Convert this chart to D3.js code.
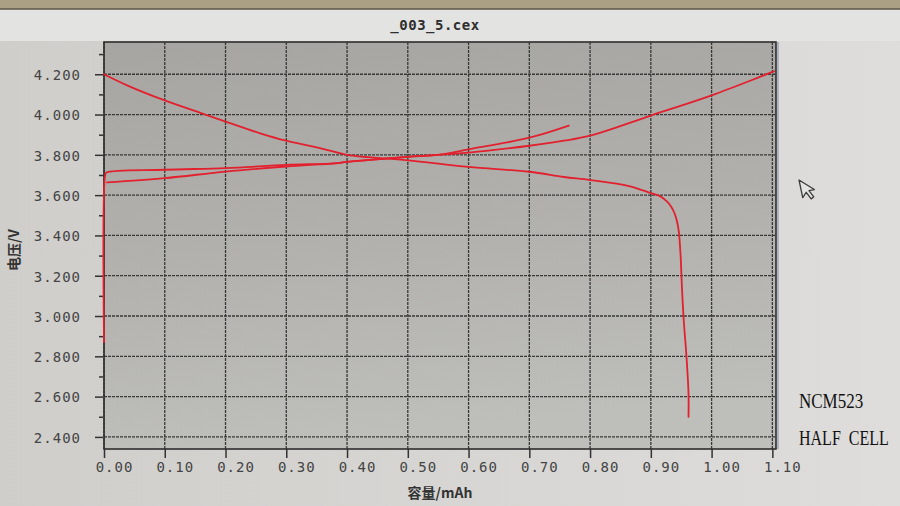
<!DOCTYPE html>
<html><head><meta charset="utf-8">
<script src="https://cdn.jsdelivr.net/npm/d3@7"></script>
<style>html,body{margin:0;padding:0;background:#d6d5d1;}svg{display:block;}</style>
</head><body>
<script>
// ---- data ----
const title = "_003_5.cex";
const xTicks = [0.00,0.10,0.20,0.30,0.40,0.50,0.60,0.70,0.80,0.90,1.00,1.10];
const yTicks = [2.4,2.6,2.8,3.0,3.2,3.4,3.6,3.8,4.0,4.2];
const yMinorTicks = [2.5,2.7,2.9,3.1,3.3,3.5,3.7,3.9,4.1,4.3];
// discharge curve
const dischargeCap = [0,0.038,0.1,0.161,0.2,0.257,0.3,0.36,0.4,0.5,0.6,0.7,0.757,0.8,0.864,0.9,0.915,0.926,0.933,0.939,0.943,0.946,0.949,0.951,0.954,0.959,0.962,0.962];
const dischargeV   = [4.20,4.145,4.07,4.006,3.965,3.907,3.87,3.83,3.80,3.773,3.74,3.716,3.69,3.675,3.645,3.61,3.595,3.57,3.545,3.51,3.47,3.42,3.30,3.155,2.985,2.784,2.616,2.50];
// long charge curve (to 4.2 V)
const chargeLongCap = [0.005,0.1,0.2,0.3,0.38,0.4,0.5,0.6,0.7,0.757,0.8,0.9,1.0,1.103];
const chargeLongV   = [3.663,3.684,3.717,3.742,3.758,3.765,3.79,3.811,3.845,3.87,3.895,3.995,4.095,4.215];
// short charge curve (starts with the vertical rise)
const chargeShortCap = [0.0,0.002,0.004,0.1,0.2,0.3,0.38,0.4,0.5,0.55,0.6,0.7,0.765];
const chargeShortV   = [2.87,3.70,3.712,3.726,3.734,3.75,3.758,3.765,3.79,3.80,3.827,3.885,3.945];
const xLabel = "容量/mAh";
const yLabel = "电压/V";
const note1 = "NCM523";
const note2 = "HALF  CELL";

// ---- drawing ----
const W = 900, H = 506;
const svg = d3.select("body").append("svg").attr("width", W).attr("height", H);
const defs = svg.append("defs");
const bg = defs.append("linearGradient").attr("id","bg").attr("x1","0").attr("x2","1").attr("y1","0").attr("y2","0");
bg.append("stop").attr("offset","0").attr("stop-color","#cfcecb");
bg.append("stop").attr("offset","1").attr("stop-color","#dedddb");
const pg = defs.append("linearGradient").attr("id","pg").attr("x1","0").attr("x2","0.15").attr("y1","0").attr("y2","1");
pg.append("stop").attr("offset","0").attr("stop-color","#a6a5a1");
pg.append("stop").attr("offset","0.5").attr("stop-color","#b1b0ad");
pg.append("stop").attr("offset","1").attr("stop-color","#bebebb");

svg.append("rect").attr("width",W).attr("height",H).attr("fill","url(#bg)");
// title band and toolbar strip
svg.append("rect").attr("x",0).attr("y",9).attr("width",W).attr("height",32).attr("fill","#e3e3e2");
svg.append("rect").attr("x",0).attr("y",0).attr("width",W).attr("height",9).attr("fill","#ab9f84");
svg.append("line").attr("x1",0).attr("x2",W).attr("y1",9).attr("y2",9).attr("stroke","#5e574a").attr("stroke-width",1.5);

const x = d3.scaleLinear().domain([0, 1.106]).range([104, 776]);
const y = d3.scaleLinear().domain([2.34, 4.36]).range([449, 42]);
const [x0, x1] = x.range(), [y0, y1] = y.range();

// plot background
svg.append("rect").attr("x",x0).attr("y",y1).attr("width",x1-x0).attr("height",y0-y1).attr("fill","url(#pg)");

// grid
const grid = svg.append("g").attr("stroke","#383836").attr("stroke-width",1.3).attr("stroke-dasharray","3,1");
grid.selectAll("line.v").data(xTicks).join("line").attr("class","v")
  .attr("x1",d=>x(d)).attr("x2",d=>x(d)).attr("y1",y1).attr("y2",y0);
grid.selectAll("line.h").data(yTicks).join("line").attr("class","h")
  .attr("x1",x0).attr("x2",x1).attr("y1",d=>y(d)).attr("y2",d=>y(d));

// frame
svg.append("rect").attr("x",x0).attr("y",y1).attr("width",x1-x0).attr("height",y0-y1)
  .attr("fill","none").attr("stroke","#2e2e2c").attr("stroke-width",1.6);
svg.append("line").attr("x1",x1+2).attr("x2",x1+2).attr("y1",y1).attr("y2",y0).attr("stroke","#7f88a8").attr("stroke-width",1);

const fontMono = "'DejaVu Sans Mono', 'Liberation Mono', monospace";

// y axis
const yAxis = d3.axisLeft(y).tickValues(yTicks).tickFormat(d3.format(".3f")).tickSize(8).tickPadding(14);
const gy = svg.append("g").attr("transform",`translate(${x0-1},0)`).call(yAxis);
gy.select(".domain").remove();
gy.selectAll("line").attr("stroke","#333").attr("stroke-width",1.5);
gy.selectAll("text").attr("font-family",fontMono).attr("font-size",14).attr("fill","#444")
  .attr("letter-spacing","1px").attr("dy","0.38em");
const yMinor = d3.axisLeft(y).tickValues(yMinorTicks).tickFormat("").tickSize(4);
const gym = svg.append("g").attr("transform",`translate(${x0-1},0)`).call(yMinor);
gym.select(".domain").remove();
gym.selectAll("line").attr("stroke","#333").attr("stroke-width",1.5);

// x axis
const xAxis = d3.axisBottom(x).tickValues(xTicks).tickFormat(d3.format(".2f")).tickSize(9).tickPadding(4);
const gx = svg.append("g").attr("transform",`translate(0,${y0})`).call(xAxis);
gx.select(".domain").remove();
gx.selectAll("line").attr("stroke","#333").attr("stroke-width",1.5);
gx.selectAll("text").attr("font-family",fontMono).attr("font-size",14).attr("fill","#444")
  .attr("letter-spacing","1px").attr("dx",10);

// curves
const line = d3.line().x(d=>x(d[0])).y(d=>y(d[1])).curve(d3.curveCatmullRom.alpha(0.5));
const series = [
  d3.zip(chargeShortCap, chargeShortV),
  d3.zip(chargeLongCap, chargeLongV),
  d3.zip(dischargeCap, dischargeV)
];
svg.append("g").selectAll("path").data(series).join("path")
  .attr("d", line).attr("fill","none").attr("stroke","#e3202e").attr("stroke-width",1.8)
  .attr("stroke-linejoin","round").attr("stroke-linecap","round");

// title
svg.append("text").attr("x",435).attr("y",30).attr("text-anchor","middle")
  .attr("font-family",fontMono).attr("font-size",14).attr("font-weight","bold").attr("fill","#2e2e2e")
  .attr("letter-spacing","0.5px").text(title);

// axis labels
svg.append("text").attr("x",440).attr("y",498).attr("text-anchor","middle")
  .attr("font-family","'Noto Sans CJK SC', sans-serif").attr("font-size",14).attr("font-weight","bold").attr("fill","#333")
  .text(xLabel);
svg.append("text").attr("transform","translate(19,250) rotate(-90)").attr("text-anchor","middle")
  .attr("font-family","'Noto Sans CJK SC', sans-serif").attr("font-size",14).attr("font-weight","bold").attr("fill","#333")
  .text(yLabel);

// notes (condensed serif)
svg.append("text").attr("transform","translate(799,408) scale(0.85,1)")
  .attr("font-family","'Liberation Serif', serif").attr("font-size",20).attr("fill","#111").text(note1);
svg.append("text").attr("transform","translate(799,445) scale(0.8,1)")
  .attr("font-family","'Liberation Serif', serif").attr("font-size",20).attr("fill","#111")
  .attr("xml:space","preserve").style("white-space","pre").text(note2);

// mouse cursor
svg.append("path").attr("transform","translate(799,180) rotate(-12)")
  .attr("d","M0,0 L0,18 L4.5,13.5 L8,21 L11,19.5 L7.5,12.5 L13,12.5 Z")
  .attr("fill","#e4e4e2").attr("stroke","#3a3a3a").attr("stroke-width",1.3).attr("stroke-linejoin","round");
</script>
</body></html>
